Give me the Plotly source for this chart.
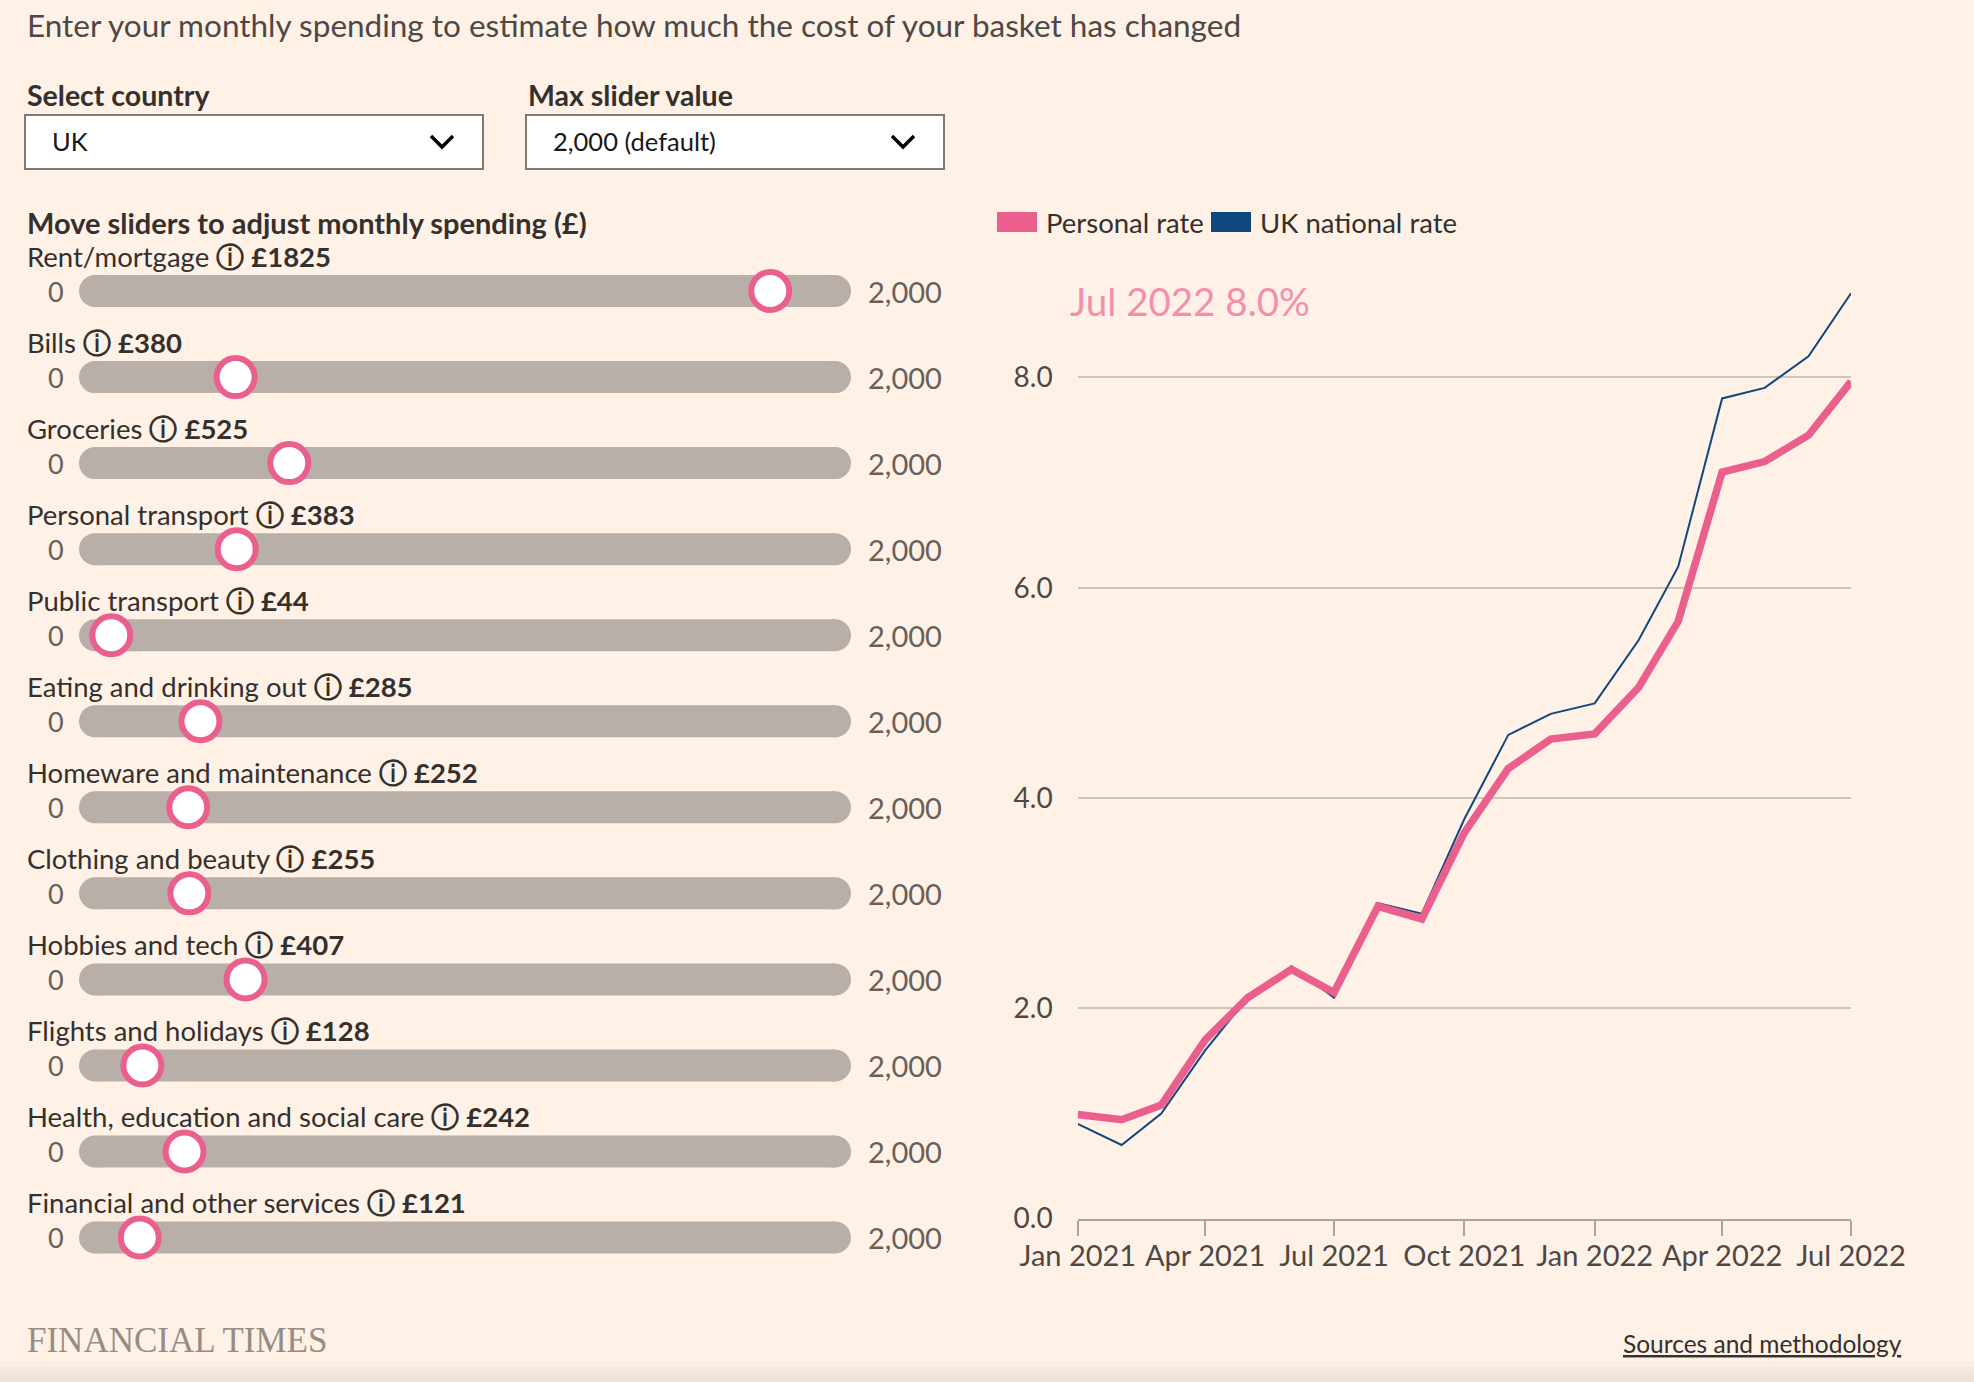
import plotly.graph_objects as go

# ---------------- data ----------------
months = ["2021-01-01", "2021-02-01", "2021-03-01", "2021-04-01", "2021-05-01", "2021-06-01",
          "2021-07-01", "2021-08-01", "2021-09-01", "2021-10-01", "2021-11-01", "2021-12-01",
          "2022-01-01", "2022-02-01", "2022-03-01", "2022-04-01", "2022-05-01", "2022-06-01",
          "2022-07-01"]
personal_rate = [0.99, 0.94, 1.08, 1.70, 2.10, 2.37, 2.15, 2.97, 2.85, 3.67, 4.28, 4.56,
                 4.61, 5.05, 5.68, 7.10, 7.20, 7.45, 7.96]
national_rate = [0.9, 0.7, 1.0, 1.6, 2.1, 2.4, 2.1, 3.0, 2.9, 3.8, 4.6, 4.8,
                 4.9, 5.5, 6.2, 7.8, 7.9, 8.2, 8.8]

categories = ["Rent/mortgage", "Bills", "Groceries", "Personal transport", "Public transport",
              "Eating and drinking out", "Homeware and maintenance", "Clothing and beauty",
              "Hobbies and tech", "Flights and holidays", "Health, education and social care",
              "Financial and other services"]
spending = [1825, 380, 525, 383, 44, 285, 252, 255, 407, 128, 242, 121]
slider_min = 0
slider_max = 2000

country = "UK"
max_option = "2,000 (default)"
latest_label = "Jul 2022"

# ---------------- style ----------------
W, H = 1974, 1382
BG = "#FFF1E5"
PINK = "#EB5F8E"
PINK_LIGHT = "#F28FB0"
BLUE = "#0F4780"
TRACK = "#B8AFA8"
DARK = "#33302E"
MID = "#4D4845"
GRID = "#CDC4BA"
FONT = "Lato, 'Noto Sans', sans-serif"


def fx(p):
    return p / W


def fy(p):
    return 1 - p / H


fig = go.Figure()

# ---------------- sliders (as a horizontal axis 0..max) ----------------
rows = list(range(len(categories)))
for i in rows:
    fig.add_trace(go.Scatter(
        x=[slider_min, slider_max], y=[i, i], xaxis="x2", yaxis="y2",
        mode="lines+markers", line=dict(color=TRACK, width=32),
        marker=dict(color=TRACK, size=32, line=dict(width=0)),
        cliponaxis=False, hoverinfo="skip", showlegend=False))
fig.add_trace(go.Scatter(
    x=spending, y=rows, xaxis="x2", yaxis="y2", mode="markers",
    marker=dict(color="white", size=38, line=dict(color=PINK, width=6)),
    cliponaxis=False, showlegend=False, hovertemplate="£%{x}<extra></extra>"))

# ---------------- line chart ----------------
fig.add_trace(go.Scatter(
    x=months, y=national_rate, mode="lines", name="UK national rate",
    line=dict(color=BLUE, width=2), cliponaxis=False, showlegend=False))
fig.add_trace(go.Scatter(
    x=months, y=personal_rate, mode="lines", name="Personal rate",
    line=dict(color=PINK, width=7.5), cliponaxis=False, showlegend=False))

ann = []
shapes = []

# title
ann.append(dict(text="Enter your monthly spending to estimate how much the cost of your basket has changed",
                x=fx(25), y=fy(25), xref="paper", yref="paper", xanchor="left", yanchor="middle",
                showarrow=False, font=dict(size=31.5, color=MID, family=FONT)))

# dropdowns
for label, value, x0, x1 in [("Select country", country, 25, 483),
                             ("Max slider value", max_option, 526, 944)]:
    ann.append(dict(text="<b>" + label + "</b>", x=fx(x0), y=fy(95), xref="paper", yref="paper",
                    xanchor="left", yanchor="middle", showarrow=False,
                    font=dict(size=28.5, color=DARK, family=FONT)))
    shapes.append(dict(type="rect", xref="paper", yref="paper", x0=fx(x0), x1=fx(x1),
                       y0=fy(169), y1=fy(115), fillcolor="white",
                       line=dict(color="#807973", width=2), layer="below"))
    ann.append(dict(text=value, x=fx(x0 + 25), y=fy(141), xref="paper", yref="paper",
                    xanchor="left", yanchor="middle", showarrow=False,
                    font=dict(size=25.5, color="#1a1817", family=FONT)))
    cx = x1 - 41
    shapes.append(dict(type="path", xref="paper", yref="paper",
                       path=f"M {fx(cx - 11)} {fy(136)} L {fx(cx)} {fy(147)} L {fx(cx + 11)} {fy(136)}",
                       line=dict(color="black", width=3.5)))

# slider heading
ann.append(dict(text="<b>Move sliders to adjust monthly spending (£)</b>", x=fx(25), y=fy(222),
                xref="paper", yref="paper", xanchor="left", yanchor="middle", showarrow=False,
                font=dict(size=29, color=DARK, family=FONT)))

for i, (cat, val) in enumerate(zip(categories, spending)):
    ann.append(dict(text=f"{cat} <b>ⓘ</b> <b>£{val}</b>", x=fx(25), y=i, xref="paper", yref="y2",
                    yshift=35, xanchor="left", yanchor="middle", showarrow=False,
                    font=dict(size=27.5, color=DARK, family=FONT)))
    ann.append(dict(text=f"{slider_min:,}", x=fx(56), y=i, xref="paper", yref="y2",
                    xanchor="center", yanchor="middle", showarrow=False,
                    font=dict(size=27, color="#66605C", family=FONT)))
    ann.append(dict(text=f"{slider_max:,}", x=fx(866), y=i, xref="paper", yref="y2",
                    xanchor="left", yanchor="middle", showarrow=False,
                    font=dict(size=29, color="#66605C", family=FONT)))

# legend
for name, color, x0, x1, tx in [("Personal rate", PINK, 997, 1037, 1044),
                                ("UK national rate", BLUE, 1211, 1251, 1258)]:
    shapes.append(dict(type="rect", xref="paper", yref="paper", x0=fx(x0), x1=fx(x1),
                       y0=fy(232), y1=fy(212), fillcolor=color, line=dict(width=0)))
    ann.append(dict(text=name, x=fx(tx), y=fy(222), xref="paper", yref="paper",
                    xanchor="left", yanchor="middle", showarrow=False,
                    font=dict(size=27.5, color=DARK, family=FONT)))

# headline value
ann.append(dict(text=f"{latest_label} {personal_rate[-1]:.1f}%", x=fx(1068), y=fy(301),
                xref="paper", yref="paper", xanchor="left", yanchor="middle", showarrow=False,
                font=dict(size=38.5, color=PINK_LIGHT, family=FONT)))

# footer
ann.append(dict(text="FINANCIAL TIMES", x=fx(25), y=fy(1340), xref="paper", yref="paper",
                xanchor="left", yanchor="middle", showarrow=False,
                font=dict(size=35, color="#958D86", family="'Liberation Serif', 'DejaVu Serif', serif")))
ann.append(dict(text="Sources and methodology", x=fx(1904), y=fy(1343), xref="paper", yref="paper",
                xanchor="right", yanchor="middle", showarrow=False,
                font=dict(size=24.5, color=DARK, family=FONT, lineposition="under")))

# bottom shading
for k, c in enumerate(["#FBEDE2", "#F7E9DE", "#F2E5DA", "#EEE2D7"]):
    shapes.append(dict(type="rect", xref="paper", yref="paper", x0=0, x1=1,
                       y0=fy(1382), y1=fy(1362 + 5 * k), fillcolor=c, line=dict(width=0),
                       layer="below"))

row_top = 291 - 43
row_bottom = 291 + 86.05 * 11 + 43
y_zero_px = 1218.6
px_per_unit = 105.15

fig.update_layout(
    autosize=True, margin=dict(l=0, r=0, t=0, b=0, autoexpand=False),
    paper_bgcolor=BG, plot_bgcolor="rgba(0,0,0,0)",
    font=dict(family=FONT, color=MID, size=26),
    showlegend=False,
    xaxis=dict(domain=[fx(1077.7), fx(1851)], type="date", range=["2021-01-01", "2022-07-01"],
               dtick="M3", tick0="2021-01-01", tickformat="%b %Y", ticks="outside", ticklen=15,
               tickwidth=2, tickcolor="#ADA49B", showline=True, linecolor="#ADA49B", linewidth=2,
               showgrid=False, zeroline=False, anchor="y", automargin=False, ticklabelstandoff=-4,
               tickfont=dict(size=29, color=MID), fixedrange=True),
    yaxis=dict(domain=[fy(y_zero_px), fy(y_zero_px - 9 * px_per_unit)], range=[0, 9], dtick=2,
               tick0=0, tickformat=".1f", showgrid=True, gridcolor=GRID, gridwidth=2,
               zeroline=False, showline=False, ticks="", ticklabelstandoff=24, automargin=False,
               tickfont=dict(size=28, color=MID), anchor="x", fixedrange=True),
    xaxis2=dict(domain=[fx(95), fx(835)], range=[slider_min, slider_max], visible=False,
                anchor="y2", fixedrange=True),
    yaxis2=dict(domain=[fy(row_bottom), fy(row_top)], range=[len(categories) - 0.5, -0.5],
                visible=False, anchor="x2", fixedrange=True),
    annotations=ann, shapes=shapes,
)

fig.write_html("out.html", config={"displayModeBar": False, "responsive": True},
               default_width="100vw", default_height="100vh",
               post_script=("document.body.style.margin='0';document.body.style.overflow='hidden';"
                            "document.body.style.background='" + BG + "';"
                            "Plotly.Plots.resize(document.getElementById('{plot_id}'));"))
